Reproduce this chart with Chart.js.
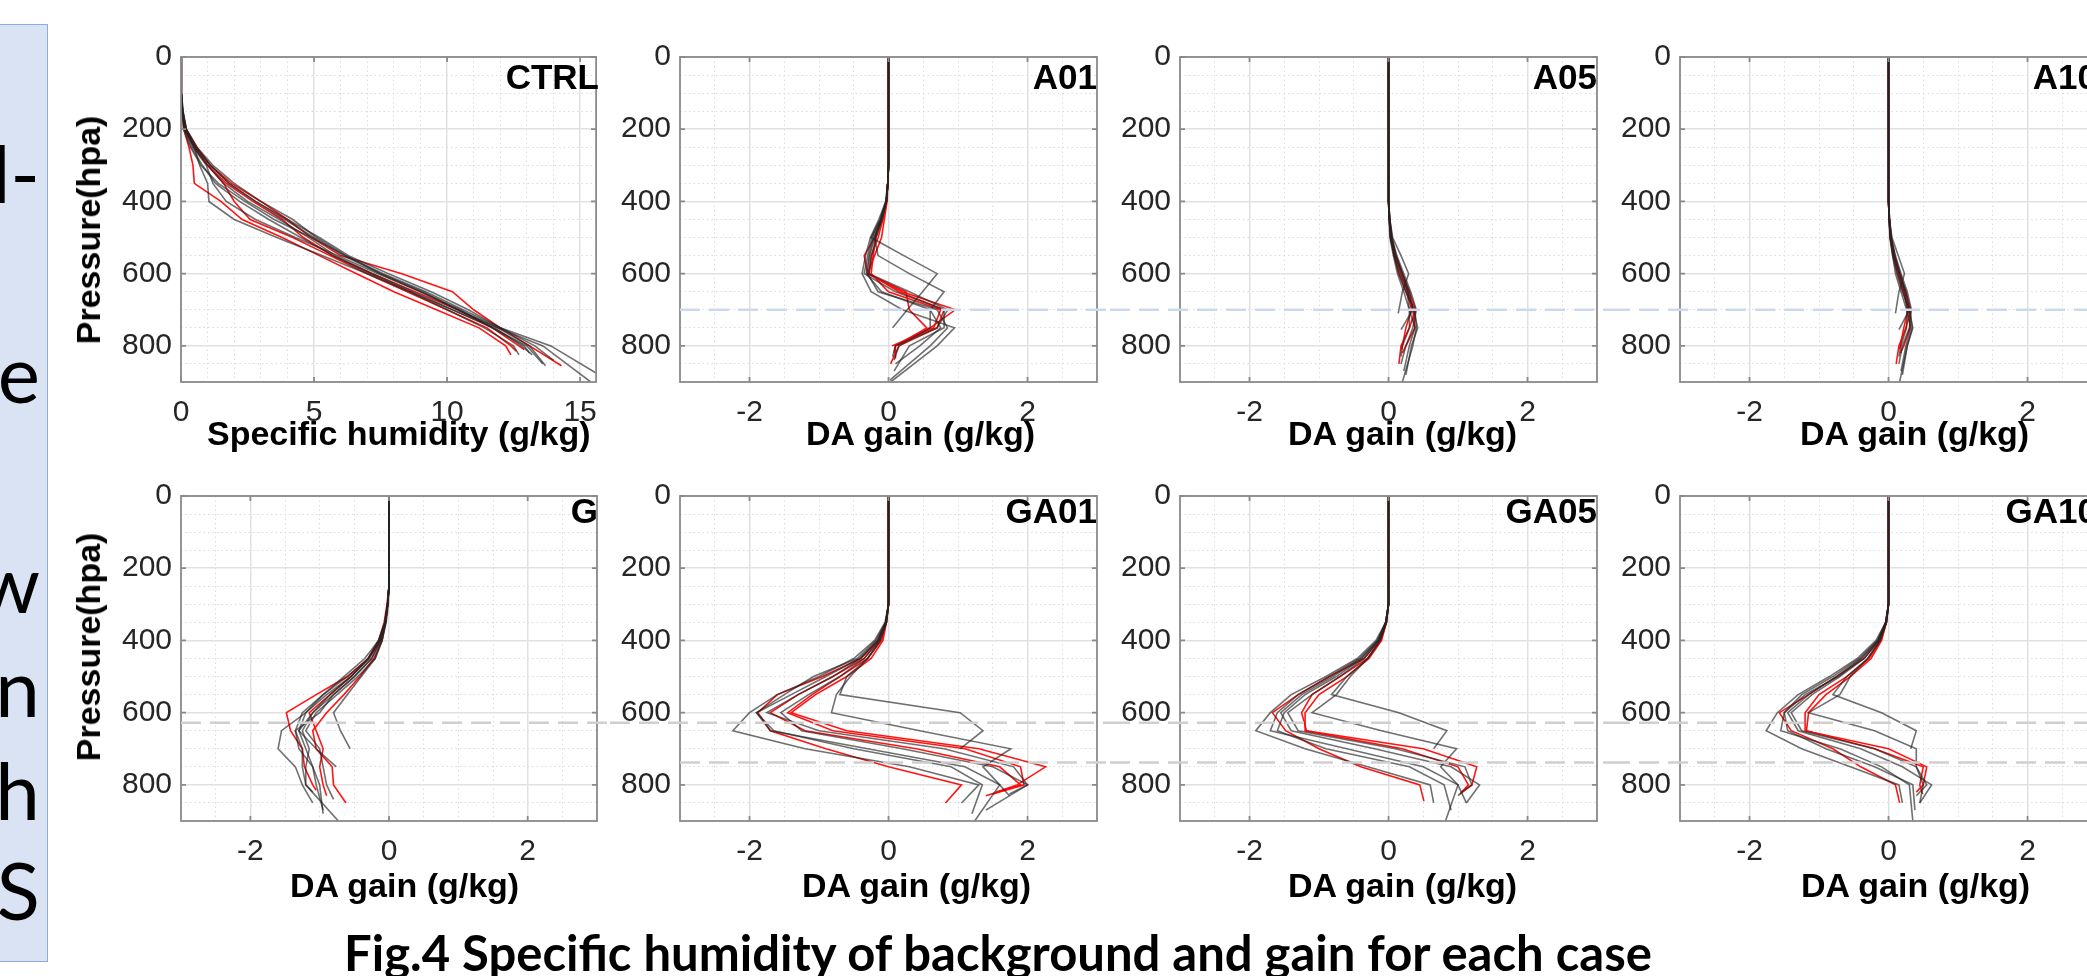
<!DOCTYPE html>
<html>
<head>
<meta charset="utf-8">
<title>Fig.4 Specific humidity of background and gain for each case</title>
<script src="https://cdn.jsdelivr.net/npm/chart.js@4.4.1/dist/chart.umd.min.js"></script>
<style>
  html, body { margin: 0; padding: 0; background: #fff; }
  body { position: relative; width: 2087px; height: 976px; overflow: hidden; }
  .side { position: absolute; left: -2px; top: 24px; width: 50px; height: 938px; box-sizing: border-box;
          background: #dae3f3; border: 1.5px solid #8faadc; }
  .stub { position: absolute; left: -500px; width: 540px; text-align: right; color: #000;
          font: 80px/80px Lato, sans-serif; white-space: nowrap; }
  .panel { position: absolute; }
  .xt, .yt, .pl { position: absolute; color: #000; white-space: nowrap;
          font: bold 34px/34px 'Liberation Sans', Arial, sans-serif; }
  .yt { transform: translate(-50%, -50%) rotate(-90deg); }
  .pl { font-size: 35px; line-height: 35px; }
  .cap { position: absolute; left: 344px; top: 928px; white-space: nowrap;
         font: bold 49px/49px Lato, sans-serif; color: #000; }
</style>
</head>
<body>
<div class="side"></div>
<div class="stub" style="top:132px">d-</div>
<div class="stub" style="top:332px">e</div>
<div class="stub" style="top:542px">w</div>
<div class="stub" style="top:646px">n</div>
<div class="stub" style="top:749px">h</div>
<div class="stub" style="top:849px">S</div>
<div class="cap">Fig.4 Specific humidity of background and gain for each case</div>

<script>
// pressure levels (hPa) of the profile points, the last point of a profile sits at its surface pressure
const LEVELS = [0, 50, 100, 150, 200, 250, 300, 350, 400, 450, 500, 550, 600, 650, 700, 750, 800, 850];

// CTRL background specific humidity (g/kg)
const ctrlGray = [
  [0,0,0.02,0.05,0.15,0.5,0.7,1.0,1.05,2.0,3.6,5.3,7.0,8.6,10.2,11.8,12.8,13.2],
  [0,0,0.02,0.06,0.2,0.5,1.0,1.6,2.5,3.7,4.8,5.8,7.2,8.7,10.2,11.7,13.0,13.6],
  [0,0,0.03,0.08,0.2,0.6,1.2,2.0,3.0,4.2,5.1,6.2,7.6,9.2,10.6,12.0,13.9,15.6],
  [0,0,0.02,0.06,0.18,0.55,1.1,1.8,2.8,3.9,5.0,6.1,7.5,9.0,10.4,11.9,13.6,15.4],
  [0,0,0.02,0.05,0.12,0.4,0.8,1.3,2.2,3.3,4.5,5.7,7.1,8.6,10.0,11.4,12.5,12.7],
  [0,0,0.02,0.05,0.15,0.45,0.95,1.2,1.7,2.8,4.3,5.9,7.4,9.0,10.5,11.7,12.9,13.1],
  [0,0,0,0.04,0.1,0.35,0.75,1.4,2.4,3.5,4.9,6.2,7.5,9.1,10.4,11.9,13.1,13.7],
  [0,0,0.03,0.07,0.18,0.55,1.1,1.8,2.8,4.0,5.2,6.3,7.8,9.4,10.8,12.0,13.3,14.0]
];
const ctrlGrayPs = [825, 850, 875, 900, 825, 820, 855, 840];
const ctrlRed = [
  [0,0,0.02,0.05,0.1,0.3,0.45,0.5,1.5,2.3,3.8,5.2,6.6,8.0,9.6,11.2,12.2,12.4],
  [0,0,0.02,0.06,0.2,0.6,1.1,1.9,3.0,4.0,4.9,6.0,8.3,10.2,11.0,12.0,13.1,14.3],
  [0,0,0.02,0.05,0.15,0.5,1.0,1.6,2.0,2.6,4.2,5.6,7.0,8.5,10.0,11.5,12.4,12.6],
  [0,0,0.02,0.05,0.15,0.5,1.0,1.7,2.7,3.8,4.6,5.7,7.2,8.8,10.4,11.7,12.7,12.9]
];
const ctrlRedPs = [825, 855, 815, 810];

// DA gain (g/kg), A01
const a01Gray = [
  [0,0,0,0,0,0,0,-0.01,-0.03,-0.12,-0.25,0.22,0.7,0.49,0.27,0.06],
  [0,0,0,0,0,0,0,-0.01,-0.03,-0.1,-0.2,-0.15,0.3,0.8,0.6,0.75,0.45,0.1],
  [0,0,0,0,0,0,0,-0.01,-0.04,-0.14,-0.26,-0.33,-0.38,-0.25,0.2,0.95,0.7,0.03],
  [0,0,0,0,0,0,0,-0.01,-0.03,-0.1,-0.2,-0.27,-0.3,-0.15,0.7,0.85,0.6,0.02],
  [0,0,0,0,0,0,0,-0.01,-0.04,-0.12,-0.24,-0.3,-0.35,0.1,0.8,0.8,0.3,0.08],
  [0,0,0,0,0,0,0,-0.01,-0.03,-0.09,-0.18,-0.24,-0.28,0.3,0.85,0.7,0.1,0.06],
  [0,0,0,0,0,0,0,-0.01,-0.03,-0.11,-0.22,-0.28,-0.32,-0.1,0.6,0.6,0.15,0.08]
];
const a01GrayPs = [750, 850, 900, 895, 870, 830, 840];
const a01Red = [
  [0,0,0,0,0,0,0,-0.01,-0.03,-0.1,-0.2,-0.35,-0.3,0.2,0.96,0.6,0.1,0.08],
  [0,0,0,0,0,0,0,-0.01,-0.03,-0.08,-0.15,-0.25,-0.28,0.15,0.8,0.7,0.15,0.03],
  [0,0,0,0,0,0,0,-0.01,-0.02,-0.06,-0.1,-0.2,-0.3,0.25,0.3,0.55,0.1,0.1],
  [0,0,0,0,0,0,0,-0.01,-0.03,-0.1,-0.18,-0.22,-0.25,0.0,0.75,0.65,0.05]
];
const a01RedPs = [820, 850, 835, 800];

// A05
const a05Gray = [
  [0,0,0,0,0,0,0,0,0.005,0.02,0.06,0.18,0.29,0.2,0.14],
  [0,0,0,0,0,0,0,0,0.005,0.015,0.04,0.1,0.2,0.3,0.35,0.18],
  [0,0,0,0,0,0,0,0,0.005,0.01,0.03,0.08,0.15,0.25,0.38,0.4,0.35,0.2],
  [0,0,0,0,0,0,0,0,0.004,0.01,0.02,0.07,0.13,0.22,0.3,0.38,0.3,0.22],
  [0,0,0,0,0,0,0,0,0.006,0.02,0.05,0.12,0.22,0.32,0.4,0.35,0.25,0.18],
  [0,0,0,0,0,0,0,0,0.005,0.015,0.03,0.09,0.17,0.27,0.3,0.3,0.2,0.18],
  [0,0,0,0,0,0,0,0,0.005,0.02,0.04,0.11,0.2,0.28,0.36,0.42,0.33,0.25]
];
const a05GrayPs = [710, 755, 900, 870, 850, 830, 880];
const a05Red = [
  [0,0,0,0,0,0,0,0,0.005,0.01,0.04,0.1,0.2,0.3,0.39,0.3,0.18,0.15],
  [0,0,0,0,0,0,0,0,0.004,0.01,0.03,0.08,0.15,0.25,0.35,0.38,0.25,0.2],
  [0,0,0,0,0,0,0,0,0.005,0.015,0.05,0.1,0.18,0.28,0.33,0.25,0.2,0.19]
];
const a05RedPs = [850, 820, 810];

// A10
const a10Gray = [
  [0,0,0,0,0,0,0,0,0.004,0.015,0.05,0.14,0.23,0.15,0.1],
  [0,0,0,0,0,0,0,0,0.004,0.01,0.03,0.08,0.16,0.25,0.3,0.15],
  [0,0,0,0,0,0,0,0,0.004,0.01,0.025,0.06,0.12,0.2,0.3,0.34,0.27,0.16],
  [0,0,0,0,0,0,0,0,0.003,0.01,0.02,0.06,0.1,0.18,0.26,0.32,0.25,0.18],
  [0,0,0,0,0,0,0,0,0.005,0.015,0.04,0.1,0.18,0.27,0.33,0.3,0.2,0.15],
  [0,0,0,0,0,0,0,0,0.004,0.012,0.025,0.07,0.14,0.22,0.27,0.26,0.18,0.15],
  [0,0,0,0,0,0,0,0,0.004,0.015,0.035,0.09,0.17,0.24,0.3,0.35,0.27,0.2]
];
const a10GrayPs = [710, 755, 900, 870, 850, 830, 880];
const a10Red = [
  [0,0,0,0,0,0,0,0,0.004,0.01,0.03,0.08,0.16,0.25,0.32,0.25,0.15,0.11],
  [0,0,0,0,0,0,0,0,0.003,0.01,0.025,0.07,0.13,0.21,0.29,0.31,0.22,0.17],
  [0,0,0,0,0,0,0,0,0.004,0.012,0.04,0.09,0.15,0.23,0.28,0.22,0.17,0.15]
];
const a10RedPs = [850, 820, 810];

// G
const gGray = [
  [0,0,0,0,0,0,-0.02,-0.06,-0.15,-0.35,-0.65,-0.95,-1.2,-1.55,-1.6,-1.35,-1.25,-1.1],
  [0,0,0,0,0,0,-0.02,-0.05,-0.1,-0.2,-0.4,-0.6,-0.8,-0.7,-0.56],
  [0,0,0,0,0,0,-0.02,-0.06,-0.14,-0.3,-0.55,-0.85,-1.1,-1.3,-1.05,-0.76],
  [0,0,0,0,0,0,-0.02,-0.05,-0.13,-0.28,-0.55,-0.9,-1.2,-1.3,-1.2,-1.1,-1.05,-0.95],
  [0,0,0,0,0,0,-0.02,-0.05,-0.12,-0.25,-0.5,-0.8,-1.1,-1.25,-1.15,-1.2,-1.2,-0.73],
  [0,0,0,0,0,0,-0.02,-0.06,-0.15,-0.3,-0.6,-0.95,-1.25,-1.35,-1.3,-1.1,-1.0,-0.95],
  [0,0,0,0,0,0,-0.01,-0.04,-0.1,-0.2,-0.45,-0.75,-1.05,-1.2,-1.0,-0.95,-0.9,-0.8],
  [0,0,0,0,0,0,-0.02,-0.05,-0.12,-0.25,-0.5,-0.8,-1.0,-1.35,-1.25,-1.25,-1.2,-1.1]
];
const gGrayPs = [850, 700, 750, 870, 900, 880, 840, 820];
const gRed = [
  [0,0,0,0,0,0,-0.02,-0.05,-0.12,-0.3,-0.6,-1.05,-1.48,-1.42,-1.25,-1.22,-1.1,-1.05],
  [0,0,0,0,0,0,-0.02,-0.05,-0.1,-0.22,-0.42,-0.65,-0.9,-1.1,-1.05,-0.82,-0.8,-0.62],
  [0,0,0,0,0,0,-0.03,-0.07,-0.15,-0.3,-0.55,-0.85,-1.15,-1.05,-0.95,-1.0,-0.95,-0.9]
];
const gRedPs = [815, 850, 830];

// GA01
const ga01Gray = [
  [0,0,0,0,0,0,0,-0.03,-0.12,-0.3,-0.6,-0.7,1.03,1.36,1.03],
  [0,0,0,0,0,0,0,-0.03,-0.12,-0.3,-0.55,-0.75,-0.82,0.45,1.76,1.36,1.6,1.74],
  [0,0,0,0,0,0,0,-0.05,-0.2,-0.5,-1.0,-1.6,-2.0,-2.24,-1.2,0.3,1.3,1.05],
  [0,0,0,0,0,0,0,-0.04,-0.18,-0.45,-1.08,-1.5,-1.9,-1.7,-0.3,1.1,1.6,1.24],
  [0,0,0,0,0,0,0,-0.04,-0.15,-0.4,-0.8,-1.3,-1.75,-1.0,0.8,1.8,2.0,1.74],
  [0,0,0,0,0,0,0,-0.03,-0.13,-0.35,-0.7,-1.15,-1.55,-1.25,0.2,1.5,2.0,1.4],
  [0,0,0,0,0,0,0,-0.04,-0.16,-0.42,-0.9,-1.4,-1.9,-1.65,-0.5,0.9,1.35,1.2]
];
const ga01GrayPs = [700, 830, 850, 900, 825, 870, 880];
const ga01Red = [
  [0,0,0,0,0,0,0,-0.04,-0.15,-0.4,-0.95,-1.6,-1.88,-1.7,-0.9,0.0,1.05,0.82],
  [0,0,0,0,0,0,0,-0.03,-0.1,-0.3,-0.7,-1.1,-1.45,-0.8,1.1,1.9,1.95,1.5],
  [0,0,0,0,0,0,0,-0.03,-0.08,-0.25,-0.6,-1.05,-1.4,-0.6,1.3,2.26,1.85,1.55],
  [0,0,0,0,0,0,0,-0.04,-0.14,-0.35,-0.8,-1.3,-1.7,-1.2,0.4,1.6,1.9,1.4]
];
const ga01RedPs = [850, 825, 820, 830];

// GA05
const ga05Gray = [
  [0,0,0,0,0,0,0,-0.03,-0.12,-0.3,-0.6,-0.82,0.15,0.84,0.65],
  [0,0,0,0,0,0,0,-0.03,-0.12,-0.3,-0.55,-0.75,-1.1,-0.1,0.98,0.75,1.0,1.12],
  [0,0,0,0,0,0,0,-0.04,-0.18,-0.45,-0.9,-1.4,-1.7,-1.91,-1.2,-0.3,0.6,0.65],
  [0,0,0,0,0,0,0,-0.04,-0.16,-0.42,-0.85,-1.3,-1.6,-1.7,-0.6,0.5,1.0,0.82],
  [0,0,0,0,0,0,0,-0.04,-0.15,-0.4,-0.8,-1.25,-1.55,-1.4,-0.2,0.9,1.31,1.12],
  [0,0,0,0,0,0,0,-0.03,-0.13,-0.35,-0.7,-1.1,-1.45,-1.3,0.1,1.1,1.2,1.0],
  [0,0,0,0,0,0,0,-0.04,-0.15,-0.38,-0.75,-1.2,-1.5,-1.6,-0.9,0.3,0.8,0.9]
];
const ga05GrayPs = [700, 850, 850, 900, 850, 830, 870];
const ga05Red = [
  [0,0,0,0,0,0,0,-0.04,-0.14,-0.35,-0.85,-1.3,-1.67,-1.48,-1.0,-0.4,0.45,0.51],
  [0,0,0,0,0,0,0,-0.03,-0.1,-0.28,-0.6,-1.0,-1.2,-1.2,0.2,1.0,1.15,1.03],
  [0,0,0,0,0,0,0,-0.03,-0.11,-0.3,-0.7,-1.1,-1.25,-1.18,0.5,1.27,1.2,1.05]
];
const ga05RedPs = [845, 825, 820];

// GA10
const ga10Gray = [
  [0,0,0,0,0,0,0,-0.03,-0.12,-0.3,-0.6,-0.8,-0.1,0.4,0.32],
  [0,0,0,0,0,0,0,-0.03,-0.12,-0.3,-0.55,-0.7,-1.15,-0.2,0.4,0.4,0.5,0.45],
  [0,0,0,0,0,0,0,-0.04,-0.18,-0.45,-0.85,-1.3,-1.6,-1.76,-1.25,-0.55,0.15,0.2],
  [0,0,0,0,0,0,0,-0.04,-0.16,-0.42,-0.8,-1.25,-1.5,-1.55,-0.7,-0.1,0.3,0.35],
  [0,0,0,0,0,0,0,-0.04,-0.15,-0.4,-0.75,-1.15,-1.45,-1.3,-0.4,0.2,0.62,0.45],
  [0,0,0,0,0,0,0,-0.03,-0.13,-0.35,-0.7,-1.1,-1.4,-1.25,-0.2,0.4,0.55,0.4],
  [0,0,0,0,0,0,0,-0.04,-0.15,-0.38,-0.72,-1.2,-1.5,-1.45,-0.9,-0.2,0.35,0.38]
];
const ga10GrayPs = [700, 850, 850, 900, 850, 830, 870];
const ga10Red = [
  [0,0,0,0,0,0,0,-0.04,-0.14,-0.35,-0.75,-1.15,-1.57,-1.4,-0.8,-0.4,0.1,0.16],
  [0,0,0,0,0,0,0,-0.03,-0.1,-0.25,-0.55,-0.9,-1.15,-1.18,-0.2,0.5,0.45,0.49],
  [0,0,0,0,0,0,0,-0.03,-0.11,-0.28,-0.6,-1.0,-1.2,-1.2,0.0,0.55,0.5,0.4]
];
const ga10RedPs = [850, 825, 820];

// dashed reference levels (hPa) and the column each one starts in
const topRefLevels = [700];
const topRefStart = [1];
const bottomRefLevels = [628, 738];
const bottomRefStart = [0, 1];

const xHum = {min: 0, max: 15.6, step: 1, major: 5};
const xGain = {min: -3, max: 3, step: 0.5, major: 2};

// page layout, pixels
const ROWS = [{top: 54, bottom: 382, titleTop: 416, labelTop: 59, yTitle: 230},
              {top: 493, bottom: 821, titleTop: 868, labelTop: 493, yTitle: 647}];
const COLS = [{cl: 50, cr: 610, al: 181, ar: 605},
              {cl: 610, cr: 1110, al: 680, ar: 1102},
              {cl: 1110, cr: 1610, al: 1180, ar: 1602},
              {cl: 1610, cr: 2110, al: 1680, ar: 2102}];

const panels = [
  {label: 'CTRL', row: 0, col: 0, gray: ctrlGray, grayPs: ctrlGrayPs, red: ctrlRed, redPs: ctrlRedPs, x: xHum,
   xTitle: 'Specific humidity (g/kg)', xTitleLeft: 207, labelRight: 599},
  {label: 'A01', row: 0, col: 1, gray: a01Gray, grayPs: a01GrayPs, red: a01Red, redPs: a01RedPs, x: xGain,
   xTitle: 'DA gain (g/kg)', xTitleLeft: 806, labelRight: 1097},
  {label: 'A05', row: 0, col: 2, gray: a05Gray, grayPs: a05GrayPs, red: a05Red, redPs: a05RedPs, x: xGain,
   xTitle: 'DA gain (g/kg)', xTitleLeft: 1288, labelRight: 1597},
  {label: 'A10', row: 0, col: 3, gray: a10Gray, grayPs: a10GrayPs, red: a10Red, redPs: a10RedPs, x: xGain,
   xTitle: 'DA gain (g/kg)', xTitleLeft: 1800, labelRight: 2097},
  {label: 'G', row: 1, col: 0, gray: gGray, grayPs: gGrayPs, red: gRed, redPs: gRedPs, x: xGain,
   xTitle: 'DA gain (g/kg)', xTitleLeft: 290, labelRight: 598},
  {label: 'GA01', row: 1, col: 1, gray: ga01Gray, grayPs: ga01GrayPs, red: ga01Red, redPs: ga01RedPs, x: xGain,
   xTitle: 'DA gain (g/kg)', xTitleLeft: 802, labelRight: 1097},
  {label: 'GA05', row: 1, col: 2, gray: ga05Gray, grayPs: ga05GrayPs, red: ga05Red, redPs: ga05RedPs, x: xGain,
   xTitle: 'DA gain (g/kg)', xTitleLeft: 1288, labelRight: 1597},
  {label: 'GA10', row: 1, col: 3, gray: ga10Gray, grayPs: ga10GrayPs, red: ga10Red, redPs: ga10RedPs, x: xGain,
   xTitle: 'DA gain (g/kg)', xTitleLeft: 1801, labelRight: 2097}
];

const PAD_TOP = 24;
const XAXIS_H = 56;
const FONT = "'Liberation Sans', Arial, sans-serif";

function toPoints(vals, ps) {
  let pts = [];
  for (let i = 0; i < vals.length - 1; i++)
    pts.push({x: vals[i], y: LEVELS[i]});
  pts.push({x: vals[vals.length - 1], y: ps});
  return pts;
}

function isMajor(v, step) {
  return Math.abs(v / step - Math.round(v / step)) < 1e-6;
}

// box round the plot area with small inward ticks, like the matlab axes
const boxPlugin = {
  id: 'axesBox',
  afterDatasetsDraw(chart) {
    const {ctx, chartArea: a, scales} = chart;
    ctx.save();
    ctx.strokeStyle = '#8a8a8a';
    ctx.lineWidth = 1.8;
    ctx.strokeRect(a.left, a.top, a.right - a.left, a.bottom - a.top);
    ctx.beginPath();
    for (let t of scales.x.ticks) {
      if (t.label === '') continue;
      let px = scales.x.getPixelForValue(t.value);
      ctx.moveTo(px, a.bottom); ctx.lineTo(px, a.bottom - 5);
      ctx.moveTo(px, a.top); ctx.lineTo(px, a.top + 5);
    }
    for (let t of scales.y.ticks) {
      if (t.label === '') continue;
      let py = scales.y.getPixelForValue(t.value);
      ctx.moveTo(a.left, py); ctx.lineTo(a.left + 5, py);
      ctx.moveTo(a.right, py); ctx.lineTo(a.right - 5, py);
    }
    ctx.stroke();
    ctx.restore();
  }
};

function refLinePlugin(lines) {
  return {
    id: 'refLines',
    afterDraw(chart) {
      const {ctx, chartArea, scales} = chart;
      for (let l of lines) {
        let y = scales.y.getPixelForValue(l.value);
        ctx.save();
        ctx.strokeStyle = l.color;
        ctx.lineWidth = 2.5;
        ctx.setLineDash([20, 9]);
        ctx.beginPath();
        ctx.moveTo(l.fromArea ? chartArea.left : 0, y);
        ctx.lineTo(chart.width, y);
        ctx.stroke();
        ctx.restore();
      }
    }
  };
}

function gridColor(step) {
  return ctx => (ctx.tick && isMajor(ctx.tick.value, step)) ? '#e1e1e1' : '#dcdcdc';
}
function gridWidth(step) {
  return ctx => (ctx.tick && isMajor(ctx.tick.value, step)) ? 1.5 : 1;
}
function gridDash(step) {
  return ctx => (!ctx.tick || isMajor(ctx.tick.value, step)) ? [] : [1.5, 3];
}

function makePanel(p) {
  const row = ROWS[p.row], col = COLS[p.col];
  const w = col.cr - col.cl;
  const h = PAD_TOP + (row.bottom - row.top) + XAXIS_H;

  let box = document.createElement('div');
  box.className = 'panel';
  box.style.left = col.cl + 'px';
  box.style.top = (row.top - PAD_TOP) + 'px';
  box.style.width = w + 'px';
  box.style.height = h + 'px';
  let canvas = document.createElement('canvas');
  box.appendChild(canvas);
  document.body.appendChild(box);

  let levels = p.row === 0 ? topRefLevels : bottomRefLevels;
  let starts = p.row === 0 ? topRefStart : bottomRefStart;
  let lines = [];
  levels.forEach((v, i) => {
    if (p.col >= starts[i])
      lines.push({value: v, fromArea: p.col === starts[i], color: p.row === 0 ? '#cdd8ee' : '#cfcfcf'});
  });

  let datasets = [];
  p.gray.forEach((vals, i) => datasets.push({
    data: toPoints(vals, p.grayPs[i]), showLine: true, pointRadius: 0,
    borderColor: 'rgba(35,35,35,0.65)', borderWidth: 1.6
  }));
  p.red.forEach((vals, i) => datasets.push({
    data: toPoints(vals, p.redPs[i]), showLine: true, pointRadius: 0,
    borderColor: 'rgba(255,0,0,0.92)', borderWidth: 1.6
  }));

  new Chart(canvas, {
    type: 'scatter',
    data: {datasets: datasets},
    options: {
      responsive: true,
      maintainAspectRatio: false,
      animation: false,
      events: [],
      layout: {autoPadding: false, padding: {top: PAD_TOP, left: 0, right: col.cr - col.ar, bottom: 0}},
      plugins: {legend: {display: false}, tooltip: {enabled: false}},
      scales: {
        x: {
          type: 'linear', min: p.x.min, max: p.x.max,
          afterFit: s => { s.height = XAXIS_H; },
          ticks: {
            stepSize: p.x.step, autoSkip: false, includeBounds: false, maxRotation: 0,
            padding: 13, color: '#262626', font: {family: FONT, size: 30},
            callback: v => isMajor(v, p.x.major) ? String(v) : ''
          },
          grid: {drawTicks: false, color: gridColor(p.x.major), lineWidth: gridWidth(p.x.major)},
          border: {display: false, dash: gridDash(p.x.major)}
        },
        y: {
          type: 'linear', reverse: true, min: 0, max: 900,
          afterFit: s => { s.width = col.al - col.cl; },
          ticks: {
            stepSize: 50, autoSkip: false, includeBounds: false,
            padding: 9, color: '#262626', font: {family: FONT, size: 30},
            callback: v => (isMajor(v, 200) && v < 900) ? String(v) : ''
          },
          grid: {drawTicks: false, color: gridColor(200), lineWidth: gridWidth(200)},
          border: {display: false, dash: gridDash(200)}
        }
      }
    },
    plugins: [boxPlugin, refLinePlugin(lines)]
  });

  // axis titles and panel name
  let xt = document.createElement('div');
  xt.className = 'xt';
  xt.textContent = p.xTitle;
  xt.style.left = p.xTitleLeft + 'px';
  xt.style.top = row.titleTop + 'px';
  document.body.appendChild(xt);

  let pl = document.createElement('div');
  pl.className = 'pl';
  pl.textContent = p.label;
  pl.style.right = (2087 - p.labelRight) + 'px';
  pl.style.top = row.labelTop + 'px';
  document.body.appendChild(pl);

  if (p.col === 0) {
    let yt = document.createElement('div');
    yt.className = 'yt';
    yt.textContent = 'Pressure(hpa)';
    yt.style.left = '88px';
    yt.style.top = row.yTitle + 'px';
    document.body.appendChild(yt);
  }
}

panels.forEach(makePanel);
</script>
</body>
</html>
